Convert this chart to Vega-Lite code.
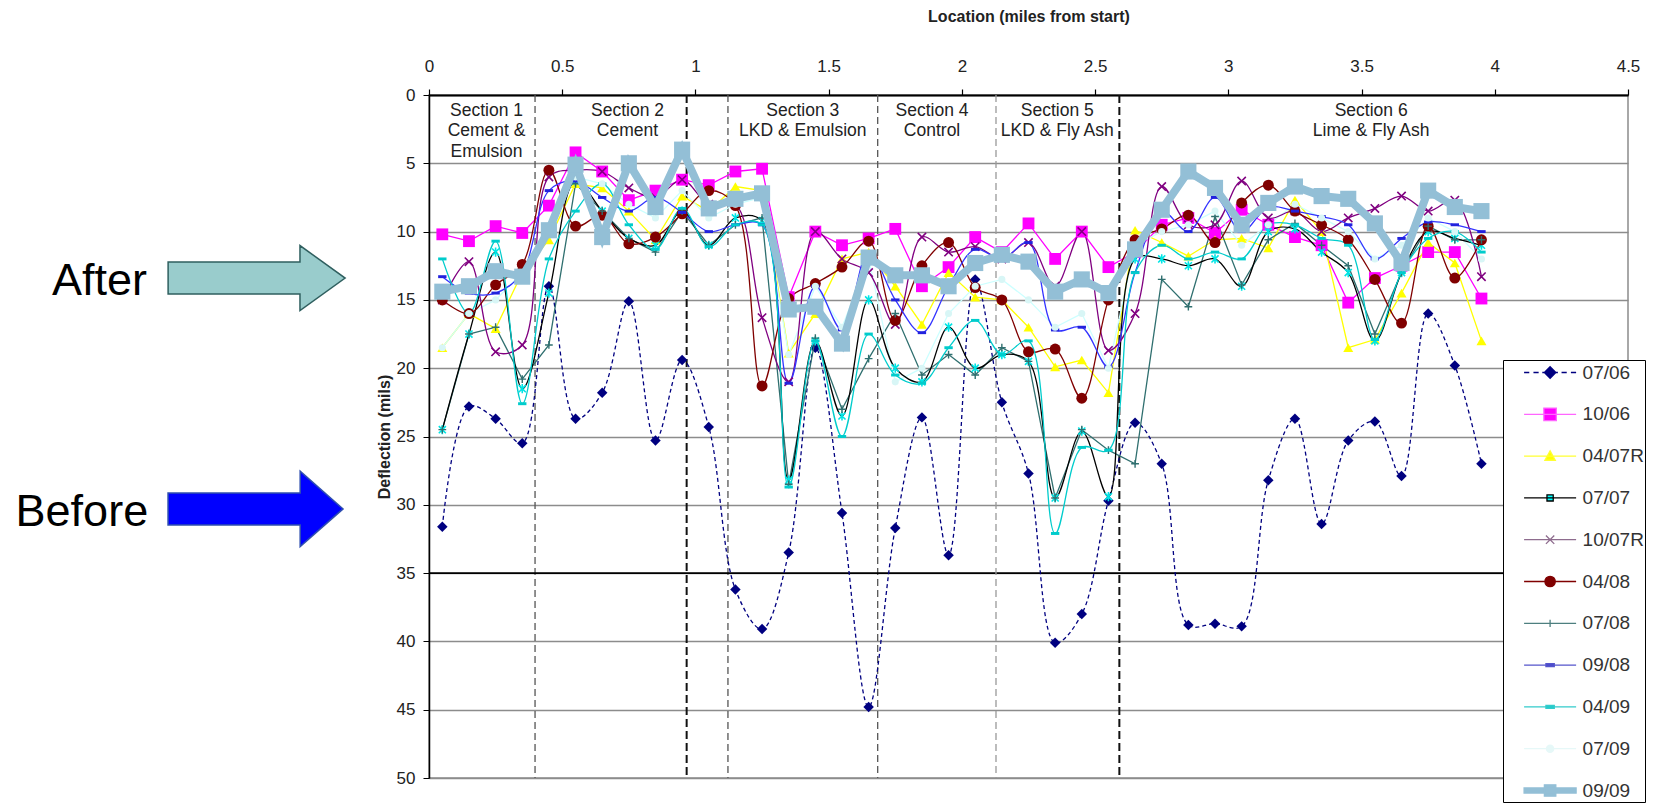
{
  "$schema": "https://vega.github.io/schema/vega-lite/v6.json",
  "width": 1199,
  "height": 683,
  "autosize": {"type": "none"},
  "padding": {"left": 429, "top": 95, "right": 33, "bottom": 28},
  "background": "white",
  "config": {"view": {"stroke": "#8C8C8C", "strokeWidth": 1.5}, "font": "Liberation Sans"},
  "datasets": {
    "main": [
      {"x":0.05,"07/06":31.6,"10/06":10.2,"04/07R":18.5,"07/07":24.5,"10/07R":15.0,"04/08":15.0,"07/08":24.5,"09/08":13.3,"04/09":12.0,"07/09":18.5,"09/09":14.4},
      {"x":0.15,"07/06":22.8,"10/06":10.7,"04/07R":16.0,"07/07":17.5,"10/07R":12.2,"04/08":16.0,"07/08":17.5,"09/08":14.5,"04/09":16.0,"07/09":16.0,"09/09":14.0},
      {"x":0.25,"07/06":23.7,"10/06":9.6,"04/07R":17.1,"07/07":11.5,"10/07R":18.8,"04/08":13.9,"07/08":17.0,"09/08":14.5,"04/09":10.7,"07/09":15.0,"09/09":12.9},
      {"x":0.35,"07/06":25.5,"10/06":10.1,"04/07R":13.0,"07/07":21.5,"10/07R":18.3,"04/08":12.4,"07/08":20.8,"09/08":13.0,"04/09":22.6,"07/09":13.0,"09/09":13.3},
      {"x":0.45,"07/06":14.0,"10/06":8.1,"04/07R":10.6,"07/07":14.5,"10/07R":6.0,"04/08":5.5,"07/08":18.3,"09/08":7.0,"04/09":12.0,"07/09":10.0,"09/09":9.9},
      {"x":0.55,"07/06":23.7,"10/06":4.2,"04/07R":6.5,"07/07":6.3,"10/07R":5.5,"04/08":9.6,"07/08":6.5,"09/08":6.3,"04/09":8.5,"07/09":6.0,"09/09":5.1},
      {"x":0.65,"07/06":21.8,"10/06":5.6,"04/07R":6.8,"07/07":8.5,"10/07R":5.6,"04/08":8.8,"07/08":8.5,"09/08":7.5,"04/09":6.5,"07/09":6.5,"09/09":10.4},
      {"x":0.75,"07/06":15.1,"10/06":7.7,"04/07R":8.5,"07/07":10.5,"10/07R":6.8,"04/08":10.9,"07/08":10.5,"09/08":8.5,"04/09":9.5,"07/09":8.0,"09/09":5.0},
      {"x":0.85,"07/06":25.3,"10/06":7.0,"04/07R":10.6,"07/07":11.0,"10/07R":7.5,"04/08":10.4,"07/08":11.5,"09/08":7.5,"04/09":11.3,"07/09":9.0,"09/09":8.2},
      {"x":0.95,"07/06":19.4,"10/06":6.2,"04/07R":7.4,"07/07":8.5,"10/07R":6.2,"04/08":8.7,"07/08":8.5,"09/08":8.6,"04/09":8.3,"07/09":7.0,"09/09":4.0},
      {"x":1.05,"07/06":24.3,"10/06":6.6,"04/07R":8.5,"07/07":11.0,"10/07R":8.0,"04/08":7.0,"07/08":11.0,"09/08":10.0,"04/09":11.1,"07/09":9.0,"09/09":8.3},
      {"x":1.15,"07/06":36.2,"10/06":5.6,"04/07R":6.7,"07/07":9.0,"10/07R":8.0,"04/08":8.1,"07/08":9.5,"09/08":9.5,"04/09":9.5,"07/09":8.0,"09/09":7.6},
      {"x":1.25,"07/06":39.1,"10/06":5.4,"04/07R":7.0,"07/07":9.2,"10/07R":16.3,"04/08":21.3,"07/08":9.0,"09/08":9.5,"04/09":9.5,"07/09":7.5,"09/09":7.2},
      {"x":1.35,"07/06":33.5,"10/06":14.8,"04/07R":18.9,"07/07":28.2,"10/07R":21.0,"04/08":14.9,"07/08":28.5,"09/08":21.1,"04/09":28.7,"07/09":19.0,"09/09":15.7},
      {"x":1.45,"07/06":18.5,"10/06":10.0,"04/07R":16.0,"07/07":18.0,"10/07R":10.0,"04/08":13.8,"07/08":17.8,"09/08":14.0,"04/09":18.0,"07/09":14.0,"09/09":15.5},
      {"x":1.55,"07/06":30.6,"10/06":11.0,"04/07R":12.0,"07/07":23.5,"10/07R":12.0,"04/08":12.6,"07/08":23.0,"09/08":17.2,"04/09":25.0,"07/09":17.0,"09/09":18.2},
      {"x":1.65,"07/06":44.8,"10/06":10.5,"04/07R":11.5,"07/07":15.0,"10/07R":13.0,"04/08":10.7,"07/08":19.3,"09/08":11.5,"04/09":17.5,"07/09":12.0,"09/09":11.9},
      {"x":1.75,"07/06":31.7,"10/06":9.8,"04/07R":14.0,"07/07":20.0,"10/07R":16.8,"04/08":16.5,"07/08":16.0,"09/08":15.0,"04/09":20.5,"07/09":21.0,"09/09":13.2},
      {"x":1.85,"07/06":23.6,"10/06":14.0,"04/07R":16.8,"07/07":21.0,"10/07R":10.4,"04/08":12.5,"07/08":20.5,"09/08":17.4,"04/09":21.1,"07/09":20.0,"09/09":13.2},
      {"x":1.95,"07/06":33.7,"10/06":12.6,"04/07R":13.0,"07/07":17.0,"10/07R":11.5,"04/08":10.8,"07/08":19.0,"09/08":14.0,"04/09":18.5,"07/09":16.0,"09/09":14.0},
      {"x":2.05,"07/06":13.5,"10/06":10.4,"04/07R":14.8,"07/07":20.0,"10/07R":11.1,"04/08":14.1,"07/08":20.5,"09/08":11.3,"04/09":16.5,"07/09":14.0,"09/09":12.3},
      {"x":2.15,"07/06":22.5,"10/06":11.5,"04/07R":15.0,"07/07":19.0,"10/07R":12.0,"04/08":15.0,"07/08":18.5,"09/08":12.0,"04/09":19.0,"07/09":13.5,"09/09":11.7},
      {"x":2.25,"07/06":27.7,"10/06":9.4,"04/07R":17.0,"07/07":19.5,"10/07R":10.8,"04/08":18.8,"07/08":19.5,"09/08":10.8,"04/09":18.0,"07/09":15.0,"09/09":12.2},
      {"x":2.35,"07/06":40.1,"10/06":12.0,"04/07R":19.9,"07/07":29.5,"10/07R":14.0,"04/08":18.6,"07/08":29.5,"09/08":17.2,"04/09":32.1,"07/09":17.0,"09/09":14.4},
      {"x":2.45,"07/06":38.0,"10/06":10.0,"04/07R":19.4,"07/07":24.6,"10/07R":10.0,"04/08":22.2,"07/08":24.5,"09/08":17.0,"04/09":25.8,"07/09":16.0,"09/09":13.5},
      {"x":2.55,"07/06":29.7,"10/06":12.6,"04/07R":21.8,"07/07":29.4,"10/07R":18.7,"04/08":15.0,"07/08":26.0,"09/08":19.9,"04/09":26.0,"07/09":20.0,"09/09":14.5},
      {"x":2.65,"07/06":24.0,"10/06":11.5,"04/07R":9.9,"07/07":12.0,"10/07R":16.0,"04/08":10.6,"07/08":27.0,"09/08":13.0,"04/09":13.0,"07/09":11.0,"09/09":11.3},
      {"x":2.75,"07/06":27.0,"10/06":9.5,"04/07R":10.8,"07/07":12.0,"10/07R":6.7,"04/08":9.8,"07/08":13.5,"09/08":8.5,"04/09":11.0,"07/09":10.0,"09/09":8.4},
      {"x":2.85,"07/06":38.8,"10/06":9.0,"04/07R":11.8,"07/07":12.5,"10/07R":9.5,"04/08":8.8,"07/08":15.5,"09/08":10.0,"04/09":12.0,"07/09":9.5,"09/09":5.6},
      {"x":2.95,"07/06":38.7,"10/06":10.1,"04/07R":10.6,"07/07":12.0,"10/07R":9.5,"04/08":10.8,"07/08":8.9,"09/08":7.5,"04/09":11.5,"07/09":8.5,"09/09":6.8},
      {"x":3.05,"07/06":38.9,"10/06":8.4,"04/07R":10.5,"07/07":14.0,"10/07R":6.3,"04/08":7.9,"07/08":13.9,"09/08":10.0,"04/09":12.0,"07/09":11.0,"09/09":9.5},
      {"x":3.15,"07/06":28.2,"10/06":9.5,"04/07R":11.2,"07/07":10.0,"10/07R":9.0,"04/08":6.6,"07/08":10.6,"09/08":8.2,"04/09":9.5,"07/09":9.5,"09/09":7.9},
      {"x":3.25,"07/06":23.7,"10/06":10.4,"04/07R":7.7,"07/07":9.8,"10/07R":8.5,"04/08":8.5,"07/08":9.4,"09/08":8.5,"04/09":9.5,"07/09":8.0,"09/09":6.7},
      {"x":3.35,"07/06":31.4,"10/06":11.0,"04/07R":10.0,"07/07":11.5,"10/07R":10.0,"04/08":9.5,"07/08":11.0,"09/08":8.9,"04/09":10.5,"07/09":9.0,"09/09":7.4},
      {"x":3.45,"07/06":25.3,"10/06":15.2,"04/07R":18.5,"07/07":13.0,"10/07R":9.0,"04/08":10.6,"07/08":12.5,"09/08":9.5,"04/09":11.0,"07/09":10.0,"09/09":7.6},
      {"x":3.55,"07/06":23.9,"10/06":13.4,"04/07R":17.9,"07/07":18.0,"10/07R":8.3,"04/08":13.5,"07/08":17.5,"09/08":12.0,"04/09":17.9,"07/09":12.0,"09/09":9.4},
      {"x":3.65,"07/06":27.9,"10/06":12.5,"04/07R":14.5,"07/07":13.0,"10/07R":7.4,"04/08":16.7,"07/08":13.0,"09/08":10.5,"04/09":13.0,"07/09":11.0,"09/09":12.3},
      {"x":3.75,"07/06":16.0,"10/06":11.5,"04/07R":10.8,"07/07":10.0,"10/07R":8.5,"04/08":9.6,"07/08":9.6,"09/08":9.3,"04/09":10.5,"07/09":9.0,"09/09":7.0},
      {"x":3.85,"07/06":19.8,"10/06":11.5,"04/07R":12.3,"07/07":10.5,"10/07R":7.7,"04/08":13.4,"07/08":10.6,"09/08":9.5,"04/09":10.0,"07/09":10.0,"09/09":8.2},
      {"x":3.95,"07/06":27.0,"10/06":14.9,"04/07R":18.0,"07/07":11.0,"10/07R":13.3,"04/08":10.6,"07/08":10.6,"09/08":10.0,"04/09":11.5,"07/09":12.0,"09/09":8.5}
    ],
    "sect": [
      {"x":0.398,"k":"g"},{"x":0.967,"k":"b"},{"x":1.122,"k":"g"},{"x":1.684,"k":"g"},{"x":2.128,"k":"l"},{"x":2.591,"k":"b"}
    ],
    "hline": [{"y":35}],
    "lab": [
      {"x":0.216,"y":0.5,"t":"Section 1|Cement &|Emulsion"},
      {"x":0.745,"y":0.5,"t":"Section 2|Cement"},
      {"x":1.403,"y":0.5,"t":"Section 3|LKD & Emulsion"},
      {"x":1.888,"y":0.5,"t":"Section 4|Control"},
      {"x":2.358,"y":0.5,"t":"Section 5|LKD & Fly Ash"},
      {"x":3.536,"y":0.5,"t":"Section 6|Lime & Fly Ash"}
    ],
    "arrows": [
      {"x":-0.647,"y":13.4,"k":"after"},
      {"x":-0.651,"y":30.3,"k":"before"}
    ],
    "notes": [
      {"x":-1.058,"y":13.6,"t":"After"},
      {"x":-1.054,"y":30.5,"t":"Before"}
    ]
  },
  "layer": [
    {
      "data": {"name": "sect"},
      "transform": [{"filter": "datum.k === 'g'"}],
      "mark": {"type": "rule", "stroke": "#555555", "strokeWidth": 1.3, "strokeDash": [7, 4]},
      "encoding": {
        "x": {"field": "x", "type": "quantitative", "scale": {"domain": [0, 4.5], "nice": false, "zero": false},
          "axis": {"orient": "top", "title": "Location (miles from start)", "values": [0,0.5,1,1.5,2,2.5,3,3.5,4,4.5], "format": "~g",
            "labelFlush": false, "labelOverlap": false, "grid": false, "domainColor": "#000000", "domainWidth": 2.2,
            "tickColor": "#000000", "tickSize": 6, "tickWidth": 1.2, "labelFont": "Liberation Sans", "labelFontSize": 17,
            "labelColor": "#222222", "labelPadding": 14, "titleFont": "Liberation Sans", "titleFontSize": 16, "titleFontWeight": "bold",
            "titleColor": "#222222", "titlePadding": 33}}
      }
    },
    {
      "data": {"name": "hline"},
      "mark": {"type": "rule", "stroke": "#000000", "strokeWidth": 1.6},
      "encoding": {
        "y": {"field": "y", "type": "quantitative", "scale": {"domain": [0, 50], "reverse": true, "nice": false, "zero": false},
          "axis": {"title": "Deflection (mils)", "values": [0,5,10,15,20,25,30,35,40,45,50], "grid": true,
            "gridColor": "#8C8C8C", "gridWidth": 1.5, "domainColor": "#000000", "domainWidth": 1.5, "tickColor": "#000000", "tickSize": 6,
            "labelFlush": false, "labelOverlap": false, "labelFont": "Liberation Sans", "labelFontSize": 17, "labelColor": "#222222",
            "labelPadding": 8, "titleFont": "Liberation Sans", "titleFontSize": 16, "titleFontWeight": "bold",
            "titleColor": "#222222", "titlePadding": 4}}
      }
    },
    {
      "data": {"name": "sect"},
      "transform": [{"filter": "datum.k === 'b'"}],
      "mark": {"type": "rule", "stroke": "#111111", "strokeWidth": 2, "strokeDash": [8, 4]},
      "encoding": {"x": {"field": "x", "type": "quantitative"}}
    },
    {
      "data": {"name": "sect"},
      "transform": [{"filter": "datum.k === 'l'"}],
      "mark": {"type": "rule", "stroke": "#999999", "strokeWidth": 1.3, "strokeDash": [7, 4]},
      "encoding": {"x": {"field": "x", "type": "quantitative"}}
    },
    {
      "data": {"name": "main"},
      "transform": [{"fold": ["07/06"], "as": ["s", "y"]}],
      "mark": {"type": "line", "interpolate": "catmull-rom", "color": "#000080", "strokeWidth": 1.3, "strokeDash": [4, 3]},
      "encoding": {"x": {"field": "x", "type": "quantitative"}, "y": {"field": "y", "type": "quantitative"}}
    },
    {
      "data": {"name": "main"},
      "transform": [{"fold": ["07/06"], "as": ["s", "y"]}],
      "mark": {"type": "point", "shape": "diamond", "filled": true, "color": "#000080", "size": 110, "opacity": 1},
      "encoding": {"x": {"field": "x", "type": "quantitative"}, "y": {"field": "y", "type": "quantitative"}}
    },
    {
      "data": {"name": "main"},
      "transform": [{"fold": ["10/06", "04/07R", "07/08", "07/09"], "as": ["s", "y"]}],
      "mark": {"type": "line", "interpolate": "linear", "strokeWidth": 1.3},
      "encoding": {
        "x": {"field": "x", "type": "quantitative"},
        "y": {"field": "y", "type": "quantitative"},
        "color": {"field": "s", "type": "nominal", "legend": null,
          "scale": {"domain": ["09/09","07/09","04/09","09/08","07/08","04/08","10/07R","07/07","04/07R","10/06","07/06"],
            "range": ["#93BFD6","#CCFFFF","#00CCCC","#3333FF","#2F6F6F","#800000","#800080","#000000","#FFFF00","#FF00FF","#000080"]}}
      }
    },
    {
      "data": {"name": "main"},
      "transform": [{"fold": ["07/07", "10/07R", "04/08", "09/08", "04/09"], "as": ["s", "y"]}],
      "mark": {"type": "line", "interpolate": "catmull-rom", "strokeWidth": 1.3},
      "encoding": {
        "x": {"field": "x", "type": "quantitative"},
        "y": {"field": "y", "type": "quantitative"},
        "color": {"field": "s", "type": "nominal", "legend": null}
      }
    },
    {
      "data": {"name": "main"},
      "transform": [{"fold": ["10/06"], "as": ["s", "y"]}],
      "mark": {"type": "point", "shape": "square", "filled": true, "color": "#FF00FF", "size": 140, "opacity": 1},
      "encoding": {"x": {"field": "x", "type": "quantitative"}, "y": {"field": "y", "type": "quantitative"}}
    },
    {
      "data": {"name": "main"},
      "transform": [{"fold": ["04/07R"], "as": ["s", "y"]}],
      "mark": {"type": "point", "shape": "triangle-up", "filled": true, "color": "#FFFF00", "size": 100, "opacity": 1},
      "encoding": {"x": {"field": "x", "type": "quantitative"}, "y": {"field": "y", "type": "quantitative"}}
    },
    {
      "data": {"name": "main"},
      "transform": [{"fold": ["07/07"], "as": ["s", "y"]}],
      "mark": {"type": "point", "shape": "M-1,-1L1,1M1,-1L-1,1M0,-1.3V1.3", "filled": false, "stroke": "#00E5E5", "strokeWidth": 1.6, "size": 50, "opacity": 1},
      "encoding": {"x": {"field": "x", "type": "quantitative"}, "y": {"field": "y", "type": "quantitative"}}
    },
    {
      "data": {"name": "main"},
      "transform": [{"fold": ["10/07R"], "as": ["s", "y"]}],
      "mark": {"type": "point", "shape": "M-1,-1L1,1M1,-1L-1,1", "filled": false, "stroke": "#800080", "strokeWidth": 1.6, "size": 70, "opacity": 1},
      "encoding": {"x": {"field": "x", "type": "quantitative"}, "y": {"field": "y", "type": "quantitative"}}
    },
    {
      "data": {"name": "main"},
      "transform": [{"fold": ["04/08"], "as": ["s", "y"]}],
      "mark": {"type": "point", "shape": "circle", "filled": true, "color": "#800000", "size": 120, "opacity": 1},
      "encoding": {"x": {"field": "x", "type": "quantitative"}, "y": {"field": "y", "type": "quantitative"}}
    },
    {
      "data": {"name": "main"},
      "transform": [{"fold": ["07/08"], "as": ["s", "y"]}],
      "mark": {"type": "point", "shape": "M-1,0H1M0,-1V1", "filled": false, "stroke": "#2F6F6F", "strokeWidth": 1.4, "size": 60, "opacity": 1},
      "encoding": {"x": {"field": "x", "type": "quantitative"}, "y": {"field": "y", "type": "quantitative"}}
    },
    {
      "data": {"name": "main"},
      "transform": [{"fold": ["09/08"], "as": ["s", "y"]}],
      "mark": {"type": "point", "shape": "M-1,-0.35H1V0.35H-1Z", "filled": true, "color": "#2222DD", "size": 70, "opacity": 1},
      "encoding": {"x": {"field": "x", "type": "quantitative"}, "y": {"field": "y", "type": "quantitative"}}
    },
    {
      "data": {"name": "main"},
      "transform": [{"fold": ["04/09"], "as": ["s", "y"]}],
      "mark": {"type": "point", "shape": "M-1,-0.35H1V0.35H-1Z", "filled": true, "color": "#00CCCC", "size": 70, "opacity": 1},
      "encoding": {"x": {"field": "x", "type": "quantitative"}, "y": {"field": "y", "type": "quantitative"}}
    },
    {
      "data": {"name": "main"},
      "transform": [{"fold": ["07/09"], "as": ["s", "y"]}],
      "mark": {"type": "point", "shape": "circle", "filled": true, "color": "#D8F6F6", "size": 50, "opacity": 1},
      "encoding": {"x": {"field": "x", "type": "quantitative"}, "y": {"field": "y", "type": "quantitative"}}
    },
    {
      "data": {"name": "main"},
      "transform": [{"fold": ["09/09"], "as": ["s", "y"]}],
      "mark": {"type": "line", "interpolate": "linear", "color": "#93BFD6", "strokeWidth": 8},
      "encoding": {"x": {"field": "x", "type": "quantitative"}, "y": {"field": "y", "type": "quantitative"}}
    },
    {
      "data": {"name": "main"},
      "transform": [{"fold": ["09/09"], "as": ["s", "y"]}],
      "mark": {"type": "point", "shape": "square", "filled": true, "color": "#93BFD6", "size": 260, "opacity": 1},
      "encoding": {"x": {"field": "x", "type": "quantitative"}, "y": {"field": "y", "type": "quantitative"}}
    },
    {
      "data": {"name": "lab"},
      "mark": {"type": "text", "align": "center", "baseline": "top", "lineBreak": "|", "lineHeight": 20.5, "font": "Liberation Sans", "fontSize": 17.5, "color": "#222222"},
      "encoding": {"x": {"field": "x", "type": "quantitative"}, "y": {"field": "y", "type": "quantitative"}, "text": {"field": "t"}}
    },
    {
      "data": {"name": "arrows"},
      "transform": [{"filter": "datum.k === 'after'"}],
      "mark": {"type": "point", "shape": "M-1,-0.181L0.49,-0.181L0.49,-0.367L1,0L0.49,0.367L0.49,0.181L-1,0.181Z", "size": 31329, "filled": true, "fill": "#99CCCC", "stroke": "#2F5F5F", "strokeWidth": 1.5, "opacity": 1},
      "encoding": {"x": {"field": "x", "type": "quantitative"}, "y": {"field": "y", "type": "quantitative"}}
    },
    {
      "data": {"name": "arrows"},
      "transform": [{"filter": "datum.k === 'before'"}],
      "mark": {"type": "point", "shape": "M-1,-0.183L0.51,-0.183L0.51,-0.43L1,0L0.51,0.43L0.51,0.183L-1,0.183Z", "size": 30625, "filled": true, "fill": "#0000FF", "stroke": "#2F4FAF", "strokeWidth": 1.5, "opacity": 1},
      "encoding": {"x": {"field": "x", "type": "quantitative"}, "y": {"field": "y", "type": "quantitative"}}
    },
    {
      "data": {"name": "notes"},
      "mark": {"type": "text", "align": "right", "baseline": "middle", "font": "Liberation Sans", "fontSize": 45, "color": "#000000"},
      "encoding": {"x": {"field": "x", "type": "quantitative"}, "y": {"field": "y", "type": "quantitative"}, "text": {"field": "t"}}
    },
    {
      "data": {"name": "main"},
      "transform": [{"fold": ["07/06","10/06","04/07R","07/07","10/07R","04/08","07/08","09/08","04/09","07/09","09/09"], "as": ["s", "y"]}],
      "mark": {"type": "point", "filled": true, "opacity": 0, "strokeWidth": 1.3},
      "encoding": {
        "x": {"field": "x", "type": "quantitative"},
        "y": {"field": "y", "type": "quantitative"},
        "fill": {"field": "s", "type": "nominal",
          "scale": {"domain": ["07/06","10/06","04/07R","07/07","10/07R","04/08","07/08","09/08","04/09","07/09","09/09"],
            "range": ["#000080","#FF00FF","#FFFF00","#00FFFF","#800080","#800000","#4D7F7F","#3333CC","#00CCCC","#E6F8F8","#93BFD6"]},
          "legend": {"orient": "none", "legendX": 1074, "legendY": 265, "title": null, "padding": 1, "strokeColor": "#000000", "fillColor": "#FFFFFF",
            "symbolSize": 433, "symbolStrokeWidth": 1.3, "symbolOffset": 34.6, "labelOffset": 21, "labelFont": "Liberation Sans",
            "labelFontSize": 19, "labelColor": "#333333", "rowPadding": 19.8, "symbolOpacity": 1}},
        "stroke": {"field": "s", "type": "nominal",
          "scale": {"domain": ["07/06","10/06","04/07R","07/07","10/07R","04/08","07/08","09/08","04/09","07/09","09/09"],
            "range": ["#000080","#FF66FF","#FFFF33","#000000","#8E6C8E","#800000","#4D7F7F","#5555CC","#33CCCC","#E6F8F8","#93BFD6"]},
          "legend": {"orient": "none", "legendX": 1074, "legendY": 265, "title": null, "padding": 1, "strokeColor": "#000000", "fillColor": "#FFFFFF",
            "symbolSize": 433, "symbolStrokeWidth": 1.3, "symbolOffset": 34.6, "labelOffset": 21, "labelFont": "Liberation Sans",
            "labelFontSize": 19, "labelColor": "#333333", "rowPadding": 19.8, "symbolOpacity": 1}},
        "shape": {"field": "s", "type": "nominal",
          "scale": {"domain": ["07/06","10/06","04/07R","07/07","10/07R","04/08","07/08","09/08","04/09","07/09","09/09"],
            "range": [
              "M-2.5,0H-2.0M-1.6,0H-1.1M-0.75,0H-0.55M0.55,0H0.75M1.1,0H1.6M2,0H2.5M0,-0.55L0.55,0L0,0.55L-0.55,0Z",
              "M-2.5,0H2.5M-0.6,-0.6H0.6V0.6H-0.6Z",
              "M-2.5,0H2.5M0,-0.5L0.5,0.4H-0.5Z",
              "M-2.5,0H2.5M-0.3,-0.3H0.3V0.3H-0.3Z",
              "M-2.5,0H2.5M-0.4,-0.4L0.4,0.4M0.4,-0.4L-0.4,0.4",
              "M-2.5,0H2.5M0.5,0A0.5,0.5,0,1,1,-0.5,0A0.5,0.5,0,1,1,0.5,0Z",
              "M-2.5,0H2.5M0,-0.35V0.35",
              "M-2.5,0H2.5M-0.4,-0.15H0.4V0.15H-0.4Z",
              "M-2.5,0H2.5M-0.4,-0.15H0.4V0.15H-0.4Z",
              "M-2.5,0H2.5M0.35,0A0.35,0.35,0,1,1,-0.35,0A0.35,0.35,0,1,1,0.35,0Z",
              "M-2.5,-0.25H2.5V0.25H-2.5ZM-0.55,-0.55H0.55V0.55H-0.55Z"
            ]},
          "legend": {"orient": "none", "legendX": 1074, "legendY": 265, "title": null, "padding": 1, "strokeColor": "#000000", "fillColor": "#FFFFFF",
            "symbolSize": 433, "symbolStrokeWidth": 1.3, "symbolOffset": 34.6, "labelOffset": 21, "labelFont": "Liberation Sans",
            "labelFontSize": 19, "labelColor": "#333333", "rowPadding": 19.8, "symbolOpacity": 1}}
      }
    }
  ]
}
